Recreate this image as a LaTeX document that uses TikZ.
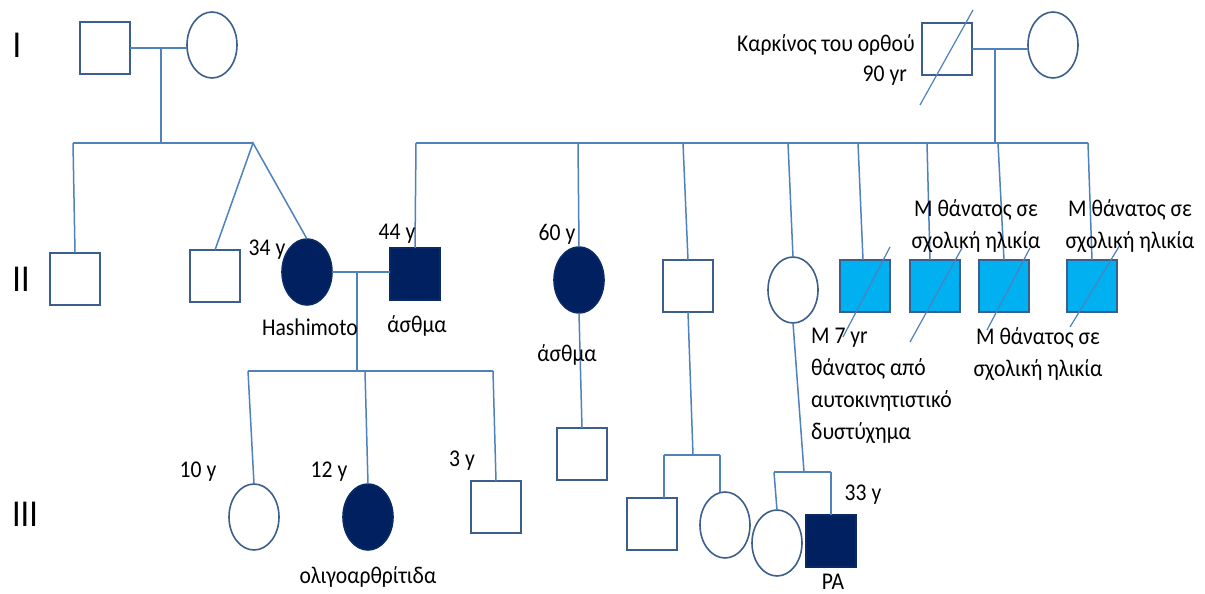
\documentclass[tikz,border=0pt]{standalone}
\usepackage{fontspec}
\setmainfont{Carlito}[FakeStretch=0.9]
\usetikzlibrary{shapes.geometric,calc}
\definecolor{lineblue}{HTML}{4F81BD}
\definecolor{edgeblue}{HTML}{3B5E8C}
\definecolor{navy}{HTML}{002060}
\definecolor{sky}{HTML}{00B0F0}
\begin{document}
\begin{tikzpicture}[x=1pt,y=-1pt,
  male/.style={rectangle,draw=edgeblue,line width=1.6pt,minimum width=50pt,minimum height=52pt,inner sep=0pt,outer sep=0pt},
  female/.style={ellipse,draw=edgeblue,line width=1.6pt,minimum width=50pt,minimum height=66pt,inner sep=0pt,outer sep=0pt},
  aff/.style={fill=navy,draw=navy!85!edgeblue},
  dec/.style={fill=sky,draw=edgeblue},
  conn/.style={draw=lineblue,line width=1.5pt},
  slash/.style={draw=lineblue,line width=1.2pt},
  lbl/.style={font=\fontsize{24}{32}\selectfont,inner sep=0pt,text=black},
  gen/.style={font=\fontsize{38}{40}\selectfont,inner sep=0pt,text=black}
]
\fill[white] (0,0) rectangle (1205,594);
\useasboundingbox (0,0) rectangle (1205,594);

% generation labels
\node[gen] (g1) at (17,45) {I};
\node[gen] (g2) at (21,279) {II};
\node[gen] (g3) at (25,514) {III};

% generation I
\node[male] (i1) at (105,48) {};
\node[female] (i2) at (212,45) {};
\node[male] (i3) at (947,49) {};
\node[female] (i4) at (1053,45) {};

% generation II
\node[male] (a1) at (75,279) {};
\node[male] (a2) at (215,276) {};
\node[female,aff] (a3) at (307,272) {};
\node[male,aff] (a4) at (415,274) {};
\node[female,aff] (a5) at (579,280) {};
\node[male] (a6) at (688,286) {};
\node[female] (a7) at (793,290) {};
\node[male,dec] (a8) at (865,286) {};
\node[male,dec] (a9) at (935,286) {};
\node[male,dec] (a10) at (1004,286) {};
\node[male,dec] (a11) at (1092,286) {};

% generation III
\node[female] (b1) at (254,517) {};
\node[female,aff] (b2) at (368,517) {};
\node[male] (b3) at (496,507) {};
\node[male] (b4) at (582,454) {};
\node[male] (b5) at (652,524) {};
\node[female] (b6) at (725,525) {};
\node[female] (b7) at (777,543) {};
\node[male,aff] (b8) at (831,541) {};

% junction coordinates
\coordinate (m1) at (161,48);
\coordinate (s1) at (161,143);
\coordinate (s1l) at (73,143);
\coordinate (s1r) at (253,143);
\coordinate (m2) at (357,273);
\coordinate (s2) at (357,371);
\coordinate (s2l) at (248,371);
\coordinate (s2m) at (365,371);
\coordinate (s2r) at (493,371);
\coordinate (m3) at (995,48);
\coordinate (s3) at (995,143);
\coordinate (s3l) at (416,143);
\coordinate (d2) at (578,143);
\coordinate (d3) at (683,143);
\coordinate (d4) at (788,143);
\coordinate (d5) at (858,143);
\coordinate (d6) at (927,143);
\coordinate (d7) at (998,143);
\coordinate (s3r) at (1088,143);
\coordinate (s4) at (693,455);
\coordinate (s4l) at (664,455);
\coordinate (s4r) at (720,455);
\coordinate (s5) at (804,472);
\coordinate (s5l) at (774,472);
\coordinate (s5r) at (831,472);

% left family
\draw[conn] (i1.east) -- (i2.west |- i1.east);
\draw[conn] (m1) -- (s1);
\draw[conn] (s1l) -- (s1r);
\draw[conn] (s1l) -- (a1.north);
\draw[conn] (a2.north) -- (s1r) -- (a3.north);
\draw[conn] (a3.east) -- (a4.west |- a3.east);
\draw[conn] (m2) -- (s2);
\draw[conn] (s2l) -- (s2r);
\draw[conn] (s2l) -- (b1.north);
\draw[conn] (s2m) -- (b2.north);
\draw[conn] (s2r) -- (b3.north);

% right family
\draw[conn] (i3.east) -- (i4.west |- i3.east);
\draw[conn] (m3) -- (s3);
\draw[conn] (s3l) -- (s3r);
\draw[conn] (s3l) -- (a4.north);
\draw[conn] (d2) -- (a5.north);
\draw[conn] (d3) -- (a6.north);
\draw[conn] (d4) -- (a7.north);
\draw[conn] (d5) -- ($(a8.north)+(-2,0)$);
\draw[conn] (d6) -- ($(a9.north)+(-5,0)$);
\draw[conn] (d7) -- (a10.north);
\draw[conn] (s3r) -- (a11.north);
\draw[conn] (a5.south) -- (b4.north);
\draw[conn] (a6.south) -- (s4);
\draw[conn] (s4l) -- (s4r);
\draw[conn] (s4l) -- (s4l |- b5.north);
\draw[conn] (s4r) -- (s4r |- b6.north);
\draw[conn] (a7.south) -- (s5);
\draw[conn] (s5l) -- (s5r);
\draw[conn] (s5l) -- (b7.north);
\draw[conn] (s5r) -- (b8.north);

% deceased slashes
\draw[slash] ($(i3.center)+(26,-39)$) -- ($(i3.center)+(-27,56)$);
\draw[slash] ($(a8.center)+(25,-39)$) -- ($(a8.center)+(-22,51)$);
\draw[slash] ($(a9.center)+(27,-38)$) -- ($(a9.center)+(-25,56)$);
\draw[slash] ($(a10.center)+(26,-38)$) -- ($(a10.center)+(-17,44)$);
\draw[slash] ($(a11.center)+(28,-41)$) -- ($(a11.center)+(-22,41)$);

% labels
\node[lbl,anchor=east] (t1) at (915,45) {Καρκίνος του ορθού};
\node[lbl,anchor=east] (t2) at (907,76) {90 yr};
\node[lbl] (t3) at (267,250) {34 y};
\node[lbl] (t4) at (397,234) {44 y};
\node[lbl] (t5) at (310,327) {Hashimoto};
\node[lbl] (t6) at (417,326) {άσθμα};
\node[lbl] (t7) at (557,234) {60 y};
\node[lbl] (t8) at (567,355) {άσθμα};
\node[lbl] (t9) at (198,472) {10 y};
\node[lbl] (t10) at (329,472) {12 y};
\node[lbl] (t11) at (462,461) {3 y};
\node[lbl] (t12) at (368,577) {ολιγοαρθρίτιδα};
\node[lbl] (t13) at (863,495) {33 y};
\node[lbl,anchor=base] (t14) at (833,589) {PA};
\node[lbl,anchor=north west,align=left] (t15) at (811,328) {Μ 7 yr\\θάνατος από\\αυτοκινητιστικό\\δυστύχημα};
\node[lbl,anchor=north,align=center] (t16) at (976,199) {Μ θάνατος σε\\σχολική ηλικία};
\node[lbl,anchor=north,align=center] (t17) at (1130,199) {Μ θάνατος σε\\σχολική ηλικία};
\node[lbl,anchor=north,align=center] (t18) at (1038,327) {Μ θάνατος σε\\σχολική ηλικία};
\end{tikzpicture}
\end{document}
